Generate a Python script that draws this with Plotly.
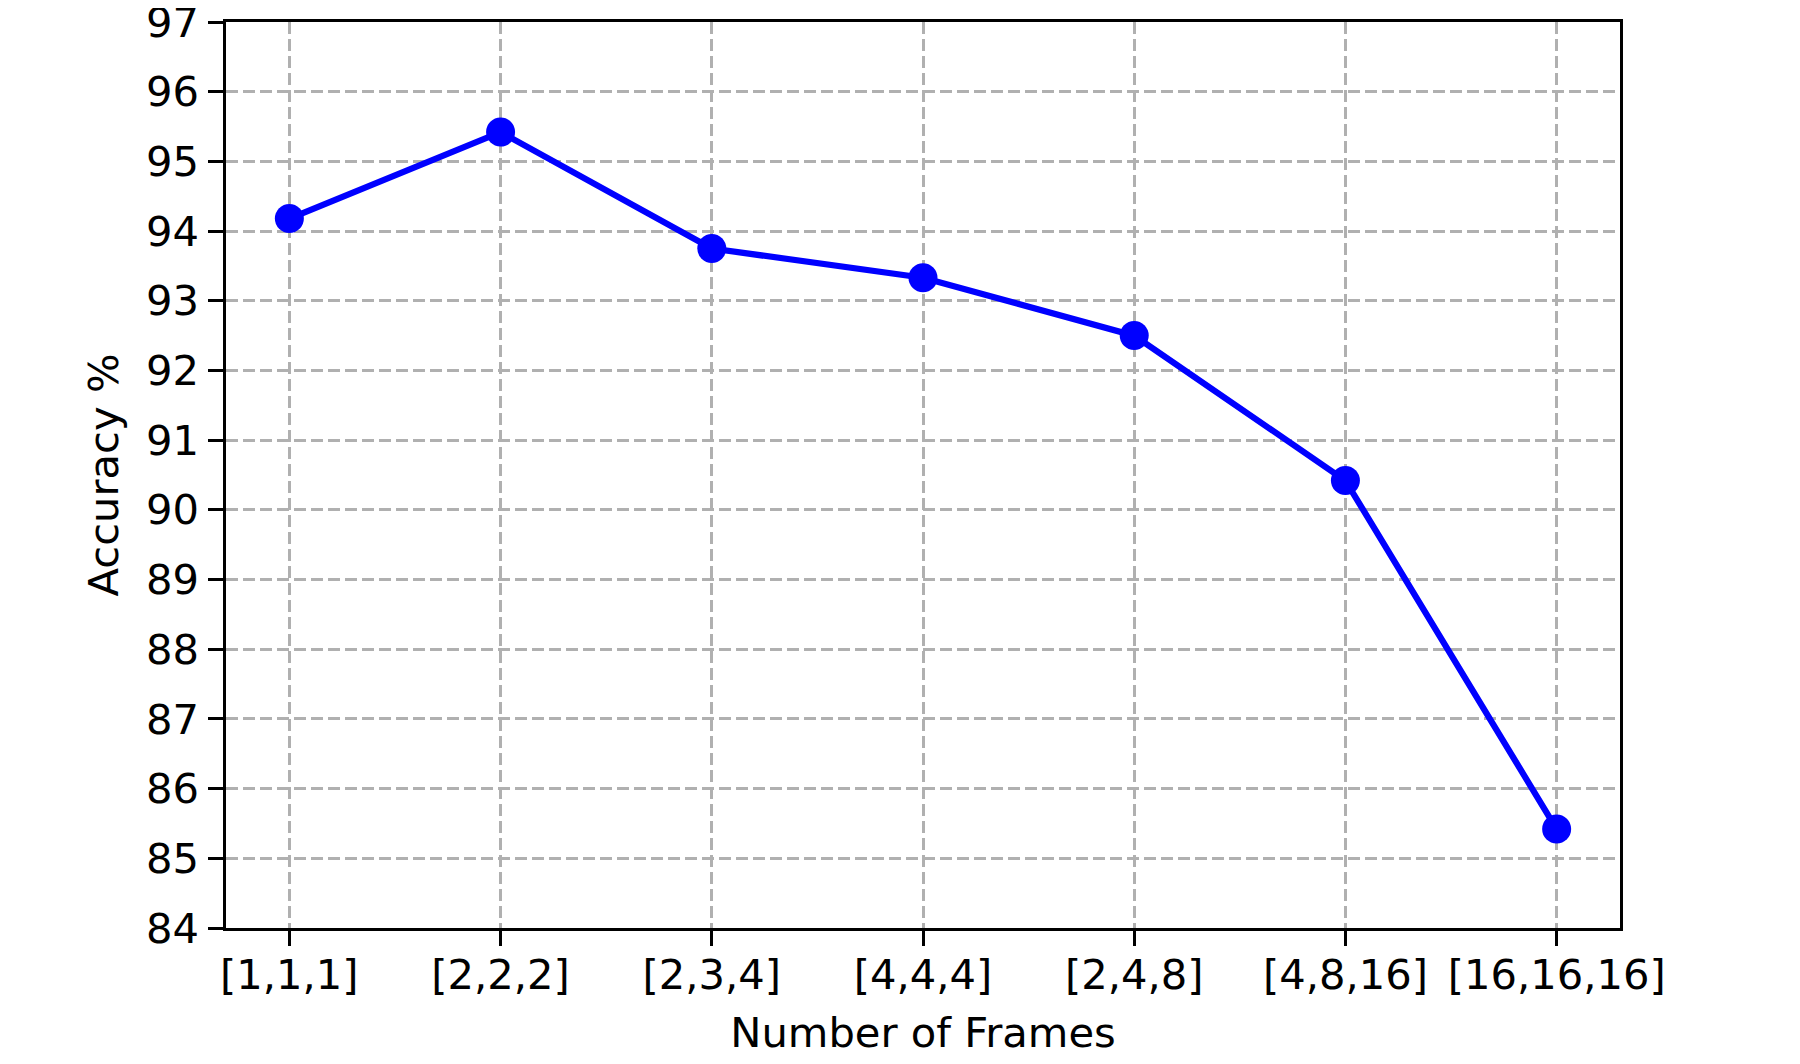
import plotly.graph_objects as go

categories = ["[1,1,1]", "[2,2,2]", "[2,3,4]", "[4,4,4]", "[2,4,8]", "[4,8,16]", "[16,16,16]"]
accuracy = [94.18, 95.42, 93.75, 93.33, 92.50, 90.42, 85.42]
y_ticks = list(range(84, 98))

FONT = "DejaVu Sans"
FS = 41.67
x_idx = list(range(len(categories)))

fig = go.Figure()
fig.add_trace(go.Scatter(
    x=x_idx, y=accuracy, mode="lines+markers",
    line=dict(color="#0000ff", width=6.25),
    marker=dict(color="#0000ff", size=29),
    showlegend=False,
))

axis_common = dict(
    showline=True, mirror=True, linecolor="black", linewidth=3.3,
    ticks="outside", ticklen=14.6, tickwidth=3.3, tickcolor="black",
    showgrid=True, gridcolor="#b0b0b0", gridwidth=3.3, griddash="12px,5px",
    zeroline=False,
    tickfont=dict(family=FONT, size=FS, color="black"),
    ticklabeloverflow="allow",
)

fig.update_xaxes(
    **axis_common,
    range=[-0.3, 6.3],
    tickmode="array", tickvals=x_idx, ticktext=categories,
    ticklabelstandoff=-7,
    title=dict(text="Number of Frames", font=dict(family=FONT, size=FS, color="black"), standoff=21),
)
fig.update_yaxes(
    **axis_common,
    range=[84, 97],
    tickmode="array", tickvals=y_ticks, ticktext=[str(v) for v in y_ticks],
    ticklabelstandoff=1,
    title=dict(text="Accuracy %", font=dict(family=FONT, size=FS, color="black"), standoff=15),
)

fig.update_layout(
    width=1792, height=1056,
    margin=dict(l=218, r=180, t=14, b=136, autoexpand=False),
    paper_bgcolor="white", plot_bgcolor="white",
    font=dict(family=FONT, size=FS, color="black"),
)

fig.write_html("out.html")
